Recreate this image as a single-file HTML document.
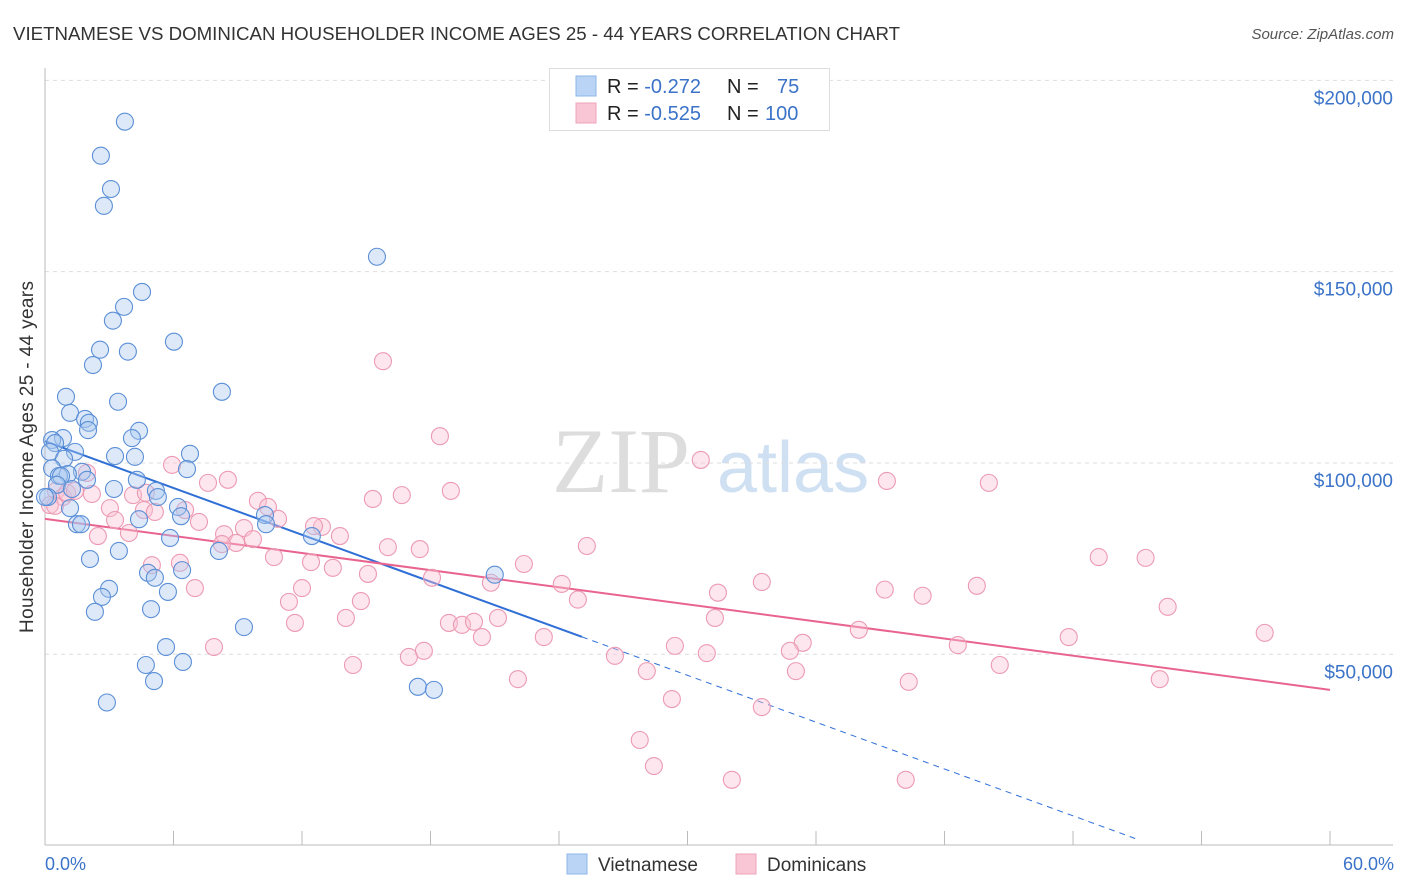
<!DOCTYPE html>
<html><head><meta charset="utf-8"><style>
body{margin:0;background:#fff;font-family:"Liberation Sans",sans-serif;}
svg{display:block}
</style></head><body>
<svg id="c" width="1406" height="892" xmlns="http://www.w3.org/2000/svg">
<text x="13" y="40" font-size="18" fill="#333" textLength="887" lengthAdjust="spacingAndGlyphs">VIETNAMESE VS DOMINICAN HOUSEHOLDER INCOME AGES 25 - 44 YEARS CORRELATION CHART</text>
<text x="1394" y="39" font-size="15" fill="#555" font-style="italic" text-anchor="end">Source: ZipAtlas.com</text>
<text x="33" y="457" font-size="19" fill="#333" text-anchor="middle" textLength="352" transform="rotate(-90 33 457)">Householder Income Ages 25 - 44 years</text>
<g>
<text x="552" y="492" font-size="92" font-family="Liberation Serif,serif" fill="#ddd">ZIP</text>
<text x="717" y="492" font-size="72" fill="#cfe0f3">atlas</text>
</g>
<g id="grid"></g><g id="axes"></g><g id="trend"></g><g id="pts"></g>
<g>
<rect x="549.5" y="68.5" width="280" height="62" fill="#fff" stroke="#ddd"/>
<rect x="576" y="76" width="20" height="20" fill="#b9d4f5" stroke="#8fb6e8"/>
<rect x="576" y="103" width="20" height="20" fill="#f9c6d5" stroke="#f0a3bb"/>
<text x="607" y="93" font-size="20" fill="#222">R = <tspan fill="#3a73c8">-0.272</tspan><tspan x="727">N = </tspan><tspan x="777" fill="#3a73c8">75</tspan></text>
<text x="607" y="120" font-size="20" fill="#222">R = <tspan fill="#3a73c8">-0.525</tspan><tspan x="727">N = </tspan><tspan x="765" fill="#3a73c8">100</tspan></text>
</g>
<g>
<rect x="567" y="854" width="20" height="20" fill="#b9d4f5" stroke="#8fb6e8"/>
<text x="598" y="871" font-size="19" fill="#333">Vietnamese</text>
<rect x="736" y="854" width="20" height="20" fill="#f9c6d5" stroke="#f0a3bb"/>
<text x="767" y="871" font-size="19" fill="#333">Dominicans</text>
</g>
<text x="45" y="870" font-size="18" fill="#3a73c8">0.0%</text>
<text x="1394" y="870" font-size="18" fill="#3a73c8" text-anchor="end">60.0%</text>
</svg>
<script>
const yTicks=[50000,100000,150000,200000];
const yTickLabels=["$50,000","$100,000","$150,000","$200,000"];
const blueX=[3.73,2.61,3.08,2.75,15.5,4.53,3.69,3.17,6.02,2.57,3.87,2.24,8.26,0.98,3.41,1.17,1.87,2.05,2.01,4.39,0.84,4.06,0.33,0.47,1.40,0.23,3.27,4.20,6.77,0.89,6.63,0.33,1.73,1.07,0.65,0.75,1.96,4.29,0.56,1.26,5.18,3.22,0.14,5.27,6.21,1.17,10.27,4.39,1.49,1.68,6.35,10.32,12.46,5.84,3.45,8.12,2.10,4.81,5.13,21.0,6.40,5.74,2.99,2.66,4.95,2.33,9.29,5.65,4.71,6.44,5.09,17.41,18.16,2.89,0];
const blueY=[189.2,180.3,171.6,167.2,153.9,144.7,140.8,137.2,131.7,129.6,129.1,125.6,118.6,117.3,116.0,113.1,111.5,110.5,108.6,108.4,106.5,106.5,106.0,105.2,102.9,102.9,101.8,101.6,102.4,101.1,98.4,98.6,97.7,97.1,96.6,96.6,95.6,95.6,94.3,93.2,92.7,93.2,91.1,91.1,88.5,88.2,86.4,85.3,84.0,84.0,86.1,84.0,80.9,80.4,77.0,77.0,74.9,71.3,70.0,70.8,72.0,66.3,67.1,65.0,61.8,61.1,57.1,51.9,47.2,48.0,43.0,41.5,40.7,37.4,91.1];
const pinkX=[15.78,18.44,30.62,39.31,44.07,5.93,8.54,7.61,18.95,15.31,16.66,1.96,2.19,0.51,0.84,1.03,1.40,4.11,4.71,9.94,10.41,3.03,4.62,6.54,5.13,3.27,7.19,10.88,12.93,12.56,9.29,3.92,8.36,2.47,13.77,9.71,8.92,25.30,16.01,17.50,8.26,4.99,6.30,10.69,12.42,13.44,18.07,15.08,22.36,49.2,51.39,20.82,24.13,33.47,43.51,39.21,40.98,7.00,31.42,24.88,12.00,14.75,11.39,14.05,11.67,18.86,19.47,20.03,21.15,31.28,52.42,56.95,38.0,47.8,23.29,20.40,17.69,16.99,7.89,29.41,35.38,42.62,26.61,30.90,34.78,14.38,44.58,28.10,35.06,22.08,40.33,52.05,29.27,33.47,27.77,28.43,32.07,40.19,0.23,0.47];
const pinkY=[126.6,107.0,100.8,95.3,94.8,99.5,95.6,94.8,92.7,90.6,91.6,97.4,91.9,92.7,91.1,92.2,92.7,91.6,92.2,90.1,88.5,88.2,87.7,87.7,87.2,85.1,84.6,85.4,83.3,83.5,83.0,81.7,81.4,80.9,80.9,80.1,79.1,78.3,78.0,77.5,78.8,73.3,73.9,75.4,74.1,72.6,70.0,71.0,73.6,75.4,75.2,68.7,68.4,68.9,67.9,66.9,65.3,67.3,66.1,64.3,67.3,63.9,63.7,59.5,58.2,58.2,57.7,58.5,59.5,59.5,62.4,55.6,56.4,54.5,54.5,54.5,50.9,49.3,51.9,52.2,53.0,52.4,49.6,50.3,50.9,47.2,47.2,45.6,45.6,43.5,42.8,43.5,38.3,36.2,27.6,20.8,17.2,17.2,89.0,88.8];
const blueTrend=[105.7,-2.04]; // intercept (k$), slope per %
const pinkTrend=[85.4,-0.745];
const X=p=>45+p*21.417, Y=v=>845.6-v*0.0038262;
const NS="http://www.w3.org/2000/svg";
function mk(parent,tag,attrs){const e=document.createElementNS(NS,tag);for(const k in attrs)e.setAttribute(k,attrs[k]);document.getElementById(parent).appendChild(e);return e;}
yTicks.forEach((t,i)=>{
  const l=mk('grid','line',{x1:45,x2:1393,y1:Y(t),y2:Y(t),stroke:'#ddd','stroke-dasharray':'4,4'});
  
  
  const tx=mk('grid','text',{x:1393,y:Y(t)+24,'text-anchor':'end','font-size':19,fill:'#3a73c8'});
  tx.textContent=yTickLabels[i];
  
  
});
const ax=mk('axes','line',{x1:45,x2:45,y1:68,y2:845,stroke:'#bbb'});


const bx=mk('axes','line',{x1:45,x2:1393,y1:845,y2:845,stroke:'#bbb'});


for(let i=0;i<=10;i++){const t=mk('axes','line',{x1:X(i*6),x2:X(i*6),y1:831,y2:845,stroke:'#bbb'});

}
function dot(x,y,fill,stroke,name){const c=mk('pts','circle',{cx:X(x),cy:Y(y*1000),r:8.5,fill:fill,'fill-opacity':0.4,stroke:stroke,'stroke-width':1.1});

}
pinkX.forEach((x,i)=>dot(x,pinkY[i],'#f9c0d1','#ec9ab4','dominican-point'));
blueX.forEach((x,i)=>dot(x,blueY[i],'#a9c8f0','#5b8fd6','vietnamese-point'));
const f=(t,x)=>(t[0]+t[1]*x)*1000;
const b1=mk('trend','line',{x1:X(0),y1:Y(f(blueTrend,0)),x2:X(25.07),y2:Y(f(blueTrend,25.07)),stroke:'#2f6fd6','stroke-width':2});


const b2=mk('trend','line',{x1:X(25.07),y1:Y(f(blueTrend,25.07)),x2:X(50.9),y2:Y(f(blueTrend,50.9)),stroke:'#2f6fd6','stroke-width':1,'stroke-dasharray':'6,5'});


const p1=mk('trend','line',{x1:X(0),y1:Y(f(pinkTrend,0)),x2:X(60),y2:Y(f(pinkTrend,60)),stroke:'#e8648f','stroke-width':2});


</script>
</body></html>
